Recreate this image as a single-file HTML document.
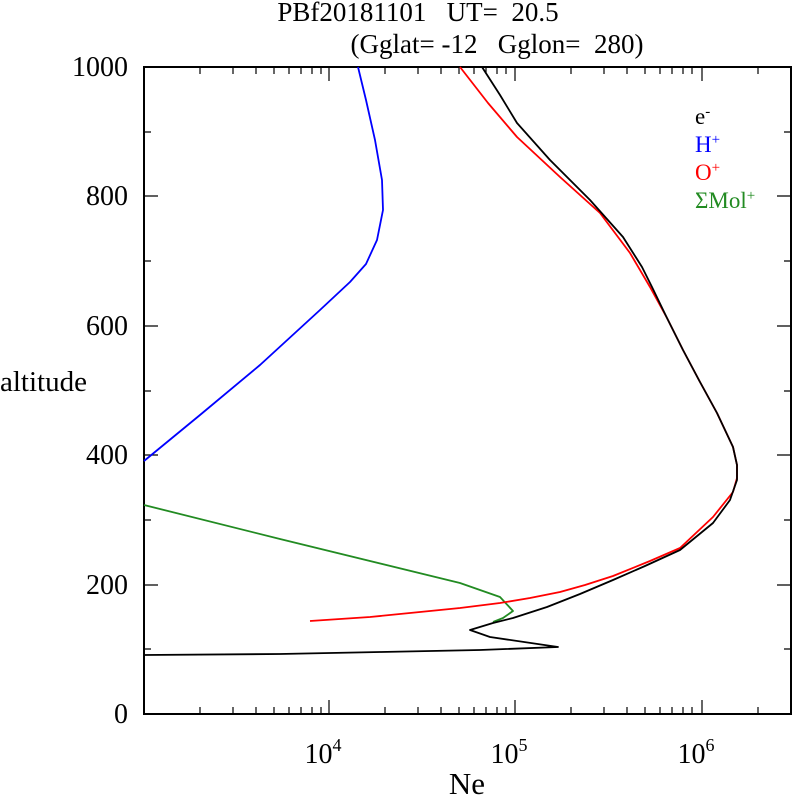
<!DOCTYPE html>
<html><head><meta charset="utf-8"><style>body{margin:0;background:#fff}svg{display:block;font-family:"Liberation Serif",serif}</style></head><body>
<svg width="792" height="795" viewBox="0 0 792 795" xmlns="http://www.w3.org/2000/svg">
<text x="418" y="21" font-size="27" text-anchor="middle" xml:space="preserve">PBf20181101   UT=  20.5</text>
<text x="497" y="53" font-size="27" text-anchor="middle" xml:space="preserve">(Gglat= -12   Gglon=  280)</text>
<g stroke="#000" stroke-width="1.2" fill="none">
<path d="M144,67H791V714H144Z" stroke-width="2"/>
<path d="M200,714v-7M233,714v-7M256,714v-7M274,714v-7M289,714v-7M301,714v-7M312,714v-7M321,714v-7M329,714v-14M385,714v-7M418,714v-7M441,714v-7M459,714v-7M474,714v-7M486,714v-7M497,714v-7M506,714v-7M515,714v-14M571,714v-7M604,714v-7M627,714v-7M645,714v-7M660,714v-7M672,714v-7M683,714v-7M692,714v-7M702,714v-14M758,714v-7"/>
<path d="M200,67v7M233,67v7M256,67v7M274,67v7M289,67v7M301,67v7M312,67v7M321,67v7M329,67v14M385,67v7M418,67v7M441,67v7M459,67v7M474,67v7M486,67v7M497,67v7M506,67v7M515,67v14M571,67v7M604,67v7M627,67v7M645,67v7M660,67v7M672,67v7M683,67v7M692,67v7M702,67v14M758,67v7"/>
<path d="M144,649h7M144,585h14M144,520h7M144,455h14M144,391h7M144,326h14M144,261h7M144,196h14M144,132h7M791,649h-7M791,585h-14M791,520h-7M791,455h-14M791,391h-7M791,326h-14M791,261h-7M791,196h-14M791,132h-7"/>
</g>
<g font-size="28" text-anchor="end">
<text x="128" y="76">1000</text><text x="128" y="205">800</text><text x="128" y="335">600</text><text x="128" y="464">400</text><text x="128" y="594">200</text><text x="128" y="723">0</text>
</g>
<text x="0" y="391" font-size="29">altitude</text>
<g font-size="28" text-anchor="middle">
<text x="323" y="763">10<tspan font-size="18" dy="-12">4</tspan></text>
<text x="509" y="763">10<tspan font-size="18" dy="-12">5</tspan></text>
<text x="696" y="763">10<tspan font-size="18" dy="-12">6</tspan></text>
<text x="467" y="794" font-size="31">Ne</text>
</g>
<g fill="none" stroke-width="1.8" stroke-linejoin="round">
<polyline stroke="#0000ff" points="144,461 200,415 260,365 320,310 350,282 366,264 377,240 383,210 382,180 375,140 366,100 358,67"/>
<polyline stroke="#228b22" points="144,505 280,539 460,583 500,597 513,611 503,618 493,622"/>
<polyline stroke="#ff0000" points="460,67 488,103 517,137 560,177 600,213 630,253 650,287 667,318 683,350 700,382 717,413 733,447 737,465 737,478 733,492 713,517 680,548 650,561 613,576 585,585 560,592 530,598 500,603 460,608 420,612 370,617 310,621"/>
<polyline stroke="#000" points="482,67 500,95 517,123 550,160 590,200 623,237 642,267 652,287 667,318 683,350 700,382 717,413 733,447 737,465 737,480 730,500 713,523 680,550 645,566 613,580 580,594 547,607 513,618 493,623 470,630 490,637 558,647 480,650 380,652 280,654 144,655"/>
</g>
<g font-size="23">
<text x="695" y="124">e<tspan font-size="15" dy="-8">-</tspan></text>
<text x="695" y="152" fill="#0000ff">H<tspan font-size="15" dy="-8">+</tspan></text>
<text x="695" y="180" fill="#ff0000">O<tspan font-size="15" dy="-8">+</tspan></text>
<text x="695" y="208" fill="#228b22">ΣMol<tspan font-size="15" dy="-8">+</tspan></text>
</g>
</svg>
</body></html>
